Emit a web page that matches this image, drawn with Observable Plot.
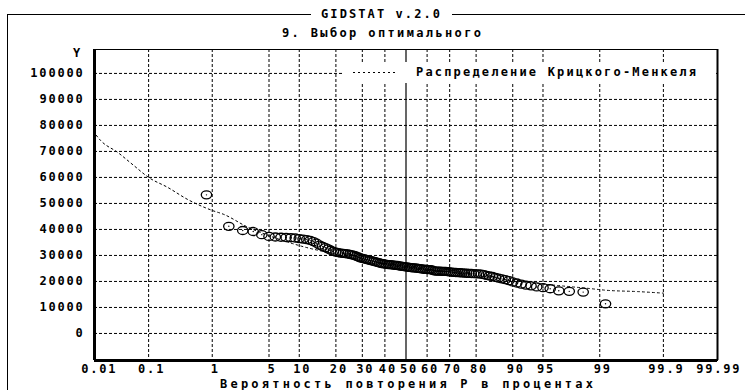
<!DOCTYPE html>
<html>
<head>
<meta charset="utf-8">
<script src="https://cdn.jsdelivr.net/npm/d3@7"></script>
<script src="https://cdn.jsdelivr.net/npm/@observablehq/plot@0.6"></script>
<style>
  html, body { margin: 0; padding: 0; background: white; }
  #wrap { position: relative; width: 745px; height: 390px; overflow: hidden; background: white; }
  #wrap > svg { position: absolute; left: 0; top: 0; }
</style>
</head>
<body>
<div id="wrap"></div>
<script>
// ---------- data ----------
const titleText = "GIDSTAT v.2.0";
const subtitleText = "9. Выбор оптимального";
const legendText = "Распределение Крицкого-Менкеля";
const xTitle = "Вероятность повторения P в процентах";
const yTitle = "Y";

const yTicks = [0, 10000, 20000, 30000, 40000, 50000, 60000, 70000, 80000, 90000, 100000];
const xTickProbs = [0.01, 0.1, 1, 5, 10, 20, 30, 40, 50, 60, 70, 80, 90, 95, 99, 99.9, 99.99];
const xTickLabels = ["0.01", "0.1", "1", "5", "10", "20", "30", "40", "50", "60", "70", "80", "90", "95", "99", "99.9", "99.99"];
const gridProbs = [0.1, 1, 5, 10, 20, 30, 40, 60, 70, 80, 90, 95, 99, 99.9];
const medianProb = [50];

// observed points: exceedance probability (%) and value
const obsProb = [0.83,1.67,2.5,3.33,4.17,5,5.83,6.67,7.5,8.33,9.17,10,10.83,11.67,12.5,13.33,14.17,15,15.83,16.67,
  17.5,18.33,19.17,20,20.83,21.67,22.5,23.33,24.17,25,25.83,26.67,27.5,28.33,29.17,30,30.83,31.67,32.5,33.33,
  34.17,35,35.83,36.67,37.5,38.33,39.17,40,40.83,41.67,42.5,43.33,44.17,45,45.83,46.67,47.5,48.33,49.17,50,
  50.83,51.67,52.5,53.33,54.17,55,55.83,56.67,57.5,58.33,59.17,60,60.83,61.67,62.5,63.33,64.17,65,65.83,66.67,
  67.5,68.33,69.17,70,70.83,71.67,72.5,73.33,74.17,75,75.83,76.67,77.5,78.33,79.17,80,80.83,81.67,82.5,83.33,
  84.17,85,85.83,86.67,87.5,88.33,89.17,90,90.83,91.67,92.5,93.33,94.17,95,95.83,96.67,97.5,98.33,99.17];
const obsValue = [53300,41200,39600,39200,38000,37300,37100,37000,36900,36800,36700,36500,36300,36100,35800,35300,34700,34000,33500,33000,
  32500,32000,31600,31300,31100,30900,30800,30700,30600,30400,30200,30000,29700,29400,29100,28900,28700,28500,28300,28100,
  27900,27700,27500,27300,27100,26900,26800,26700,26600,26500,26450,26400,26300,26200,26150,26000,25900,25800,25700,25600,
  25500,25400,25300,25250,25200,25100,25000,24900,24800,24700,24650,24600,24550,24500,24300,24100,24000,24000,23950,23900,
  23900,23850,23800,23700,23600,23500,23450,23400,23350,23300,23200,23150,23100,23050,23000,22950,22900,22800,22600,22300,
  22100,21900,21600,21300,21000,20700,20300,19800,19400,19000,18600,18300,17900,17600,17200,16400,16200,15900,11400];

// fitted Kritsky-Menkel curve
const curveProb = [0.01,0.0123,0.027,0.054,0.1,0.21,0.44,1,1.43,2.87,5,10,20,30,50,70,80,90,95,98.6,99.2,99.73,99.9];
const curveValue = [76200,74200,69600,64600,60000,56200,51500,47300,45800,40900,37600,33800,30500,28500,25700,23500,22300,20300,19000,17300,16600,16100,15500];

// ---------- probability-paper transform (inverse normal CDF) ----------
function probit(p) {
  const a=[-3.969683028665376e+01,2.209460984245205e+02,-2.759285104469687e+02,1.383577518672690e+02,-3.066479806614716e+01,2.506628277459239e+00];
  const b=[-5.447609879822406e+01,1.615858368580409e+02,-1.556989798598866e+02,6.680131188771972e+01,-1.328068155288572e+01];
  const c=[-7.784894002430293e-03,-3.223964580411365e-01,-2.400758277161838e+00,-2.549732539343734e+00,4.374664141464968e+00,2.938163982698783e+00];
  const d=[7.784695709041462e-03,3.224671290700398e-01,2.445134137142996e+00,3.754408661907416e+00];
  const pl = 0.02425, ph = 1 - pl;
  let q, r;
  if (p < pl) { q = Math.sqrt(-2*Math.log(p)); return (((((c[0]*q+c[1])*q+c[2])*q+c[3])*q+c[4])*q+c[5])/((((d[0]*q+d[1])*q+d[2])*q+d[3])*q+1); }
  if (p <= ph) { q = p-0.5; r = q*q; return (((((a[0]*r+a[1])*r+a[2])*r+a[3])*r+a[4])*r+a[5])*q/(((((b[0]*r+b[1])*r+b[2])*r+b[3])*r+b[4])*r+1); }
  q = Math.sqrt(-2*Math.log(1-p)); return -(((((c[0]*q+c[1])*q+c[2])*q+c[3])*q+c[4])*q+c[5])/((((d[0]*q+d[1])*q+d[2])*q+d[3])*q+1);
}
const Z = p => probit(p / 100);

const points = obsProb.map((p, i) => ({z: Z(p), v: obsValue[i]}));
const curve = curveProb.map((p, i) => ({z: Z(p), v: curveValue[i]}));
const xTickZ = xTickProbs.map(Z);
const xDomain = [-3.74, 3.74];
const yDomain = [-10400, 109200];

// open ellipse symbol like the original plotter's circles
const ellipse = {
  draw(ctx) {
    const rx = 5.2, ry = 4, k = 0.5523;
    ctx.moveTo(rx, 0);
    ctx.bezierCurveTo(rx, ry*k, rx*k, ry, 0, ry);
    ctx.bezierCurveTo(-rx*k, ry, -rx, ry*k, -rx, 0);
    ctx.bezierCurveTo(-rx, -ry*k, -rx*k, -ry, 0, -ry);
    ctx.bezierCurveTo(rx*k, -ry, rx, -ry*k, rx, 0);
    ctx.closePath();
  }
};

const chart = Plot.plot({
  width: 745,
  height: 390,
  marginLeft: 94,
  marginRight: 28,
  marginTop: 49,
  marginBottom: 30,
  style: {background: "transparent", fontFamily: "DejaVu Sans Mono", fontWeight: "bold", fontSize: "12px", letterSpacing: "1.8px", color: "black", overflow: "visible"},
  x: {domain: xDomain},
  y: {domain: yDomain},
  marks: [
    Plot.ruleY(yTicks, {stroke: "black", strokeWidth: 1, strokeDasharray: "3,2"}),
    Plot.ruleX(gridProbs.map(Z), {stroke: "black", strokeWidth: 1, strokeDasharray: "3,2"}),
    Plot.ruleX(medianProb.map(Z), {stroke: "black", strokeWidth: 1.2}),
    Plot.line(curve, {x: "z", y: "v", curve: "monotone-x", stroke: "black", strokeWidth: 1, strokeDasharray: "2,3"}),
    Plot.dot(points, {x: "z", y: "v", symbol: ellipse, r: 5, stroke: "black", strokeWidth: 1.3, fill: "none"}),
    Plot.dot(points, {x: "z", y: "v", r: 0.7, fill: "black", stroke: "none"}),
    Plot.frame({stroke: "black", strokeWidth: 1}),
    Plot.ruleX([xDomain[1]], {stroke: "black", strokeWidth: 2}),
    Plot.ruleX([xDomain[0]], {stroke: "black", strokeWidth: 3}),
    Plot.ruleY([yDomain[0]], {stroke: "black", strokeWidth: 3}),
    Plot.axisY(yTicks, {tickSize: 0, tickPadding: 10, label: null, tickFormat: d => String(d)}),
    Plot.axisX(xTickZ, {tickSize: 0, tickPadding: 3.5, label: null, dx: 3,
      tickFormat: d => xTickLabels[xTickZ.findIndex(z => Math.abs(z - d) < 1e-9)]})
  ]
});
document.getElementById("wrap").appendChild(chart);

// ---------- title, frame, legend and axis titles ----------
const ov = d3.select("#wrap").append("svg")
  .attr("width", 745).attr("height", 390)
  .style("font-family", "DejaVu Sans Mono").style("font-weight", "bold").style("font-size", "12px");

const line = (x1, y1, x2, y2) => ov.append("line").attr("x1", x1).attr("y1", y1).attr("x2", x2).attr("y2", y2)
  .attr("stroke", "black").attr("stroke-width", 1).attr("shape-rendering", "crispEdges");
line(7.5, 14.5, 7.5, 390);
line(7, 14.5, 311, 14.5);
line(452, 14.5, 745, 14.5);

const txt = (s, x, yc, len, anchor) => ov.append("text").attr("x", x).attr("y", yc + 4.4)
  .attr("text-anchor", anchor || "start").attr("textLength", len).attr("lengthAdjust", "spacing").text(s);
txt(titleText, 321, 14, 119);
txt(subtitleText, 282, 33, 199);
txt(xTitle, 220, 383.5, 373);
ov.append("text").attr("x", 76.7).attr("y", 52.5 + 4.4).attr("text-anchor", "middle").text(yTitle);

// legend
ov.append("rect").attr("x", 343).attr("y", 62).attr("width", 373).attr("height", 21).attr("fill", "white");
ov.append("line").attr("x1", 353).attr("x2", 398).attr("y1", 72.5).attr("y2", 72.5)
  .attr("stroke", "black").attr("stroke-width", 1).attr("stroke-dasharray", "2,3");
txt(legendText, 416, 72, 280);
</script>
</body>
</html>
